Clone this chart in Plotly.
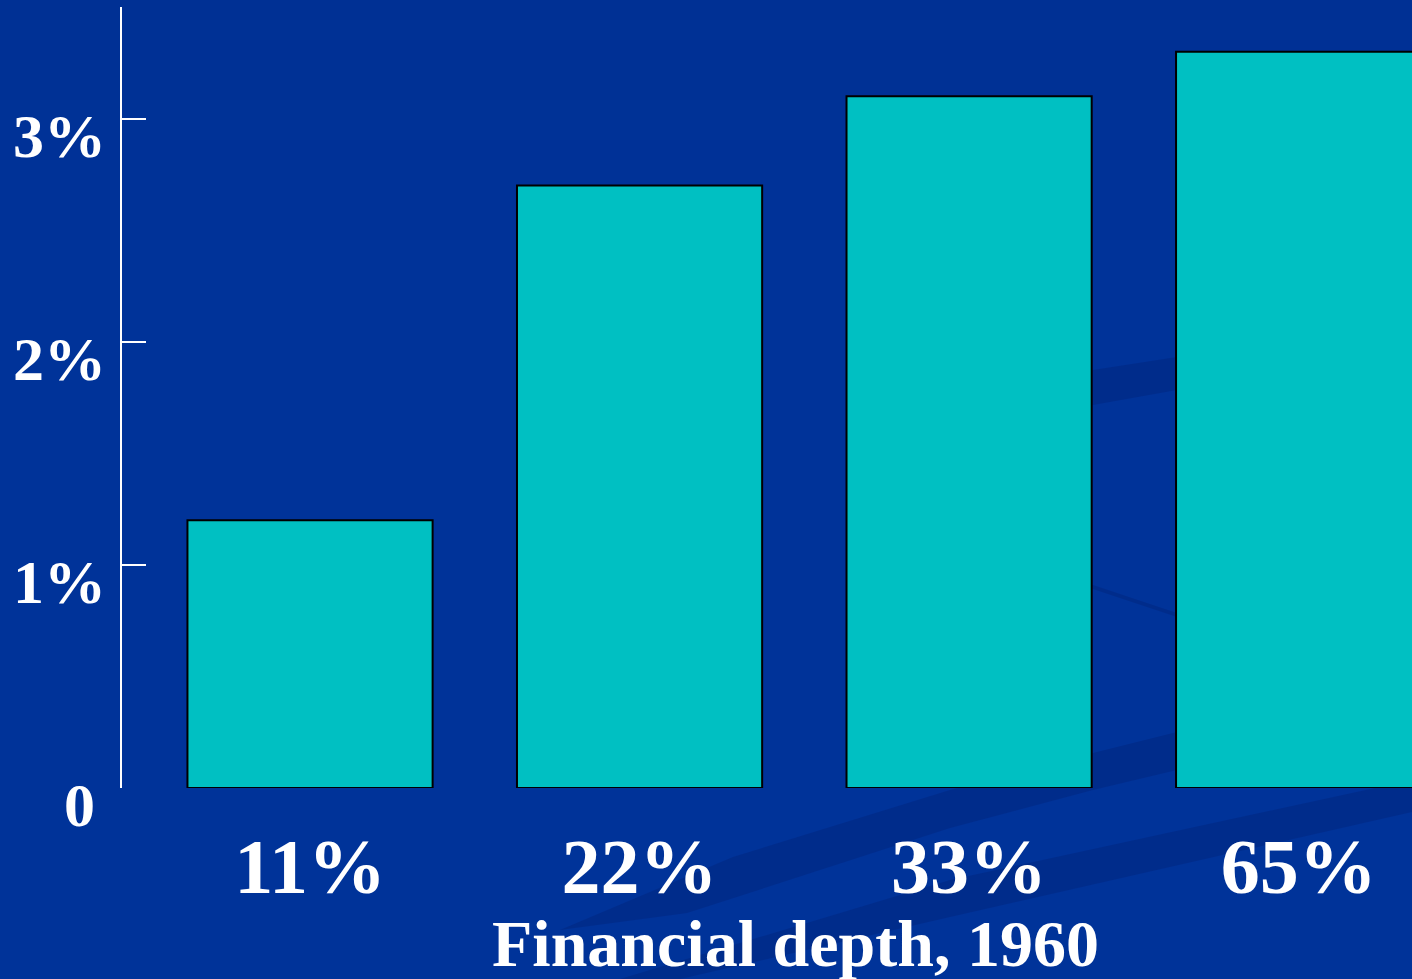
import plotly.graph_objects as go

categories = ["11%", "22%", "33%", "65%"]
growth = [1.2, 2.7, 3.1, 3.3]
y_ticks = [0, 1, 2, 3]
y_tick_labels = ["0", "1%", "2%", "3%"]
x_title = "Financial depth, 1960"

W, H = 1412, 979
ML, MR, MT, MB = 122, 0, 7, 191
PW, PH = W - ML - MR, H - MT - MB

def px2paper(px, py):
    return (px - ML) / PW, (H - MB - py) / PH

def path(points):
    pts = [px2paper(x, y) for x, y in points]
    return "M " + " L ".join(f"{x:.4f},{y:.4f}" for x, y in pts) + " Z"

FONT = "Liberation Serif"
STREAK = "rgba(0,30,110,0.30)"

fig = go.Figure()
fig.add_trace(go.Bar(
    x=list(range(len(categories))), y=growth,
    width=0.744,
    marker=dict(color="#00C0C2", line=dict(color="black", width=2)),
    hoverinfo="skip",
))

shapes = []
# subtle darker top of the slide background
for i in range(12):
    y0 = i * 20
    shapes.append(dict(type="path", xref="paper", yref="paper", layer="below",
                       path=path([(-200, y0), (1412, y0), (1412, y0 + 20), (-200, y0 + 20)]),
                       fillcolor=f"rgba(0,30,110,{0.10 * (1 - i / 12):.3f})", line=dict(width=0)))
# decorative background swooshes
shapes += [
    dict(type="path", xref="paper", yref="paper", layer="below",
         path=path([(1040, 382), (1093, 370), (1177, 357), (1412, 325),
                    (1412, 355), (1177, 390), (1093, 405), (1040, 415)]),
         fillcolor=STREAK, line=dict(width=0)),
    dict(type="path", xref="paper", yref="paper", layer="below",
         path=path([(1040, 570), (1093, 585), (1177, 613), (1412, 700),
                    (1412, 705), (1177, 617), (1093, 589), (1040, 574)]),
         fillcolor=STREAK, line=dict(width=0)),
    dict(type="path", xref="paper", yref="paper", layer="below",
         path=path([(560, 930), (733, 857), (950, 790), (1093, 753), (1177, 732), (1412, 680),
                    (1412, 740), (1177, 770), (1093, 790), (950, 828), (687, 913)]),
         fillcolor=STREAK, line=dict(width=0)),
    dict(type="path", xref="paper", yref="paper", layer="below",
         path=path([(620, 979), (950, 880), (1412, 780),
                    (1412, 812), (950, 917), (680, 979)]),
         fillcolor=STREAK, line=dict(width=0)),
]

annotations = []
for v, lab in zip(y_ticks, y_tick_labels):
    annotations.append(dict(
        text=f"<b>{lab}</b>", xref="paper", yref="y", x=0, y=v,
        xanchor="right", yanchor="middle",
        xshift=-25 if lab == "0" else -14, yshift=-17, showarrow=False,
        font=dict(family=FONT, size=62, color="white"),
    ))
annotations.append(dict(
    text=f"<b>{x_title}</b>", xref="paper", yref="paper",
    x=px2paper(796, 0)[0], y=0, xanchor="center", yanchor="top",
    yshift=-117, showarrow=False,
    font=dict(family=FONT, size=66, color="white"),
))

fig.update_layout(
    width=W, height=H,
    margin=dict(l=ML, r=MR, t=MT, b=MB, pad=0, autoexpand=False),
    paper_bgcolor="#003399",
    plot_bgcolor="rgba(0,0,0,0)",
    showlegend=False,
    shapes=shapes,
    font=dict(family=FONT, color="white"),
    xaxis=dict(
        range=[-0.5706, 3.344],
        tickvals=list(range(len(categories))),
        ticktext=categories,
        tickfont=dict(family=FONT, size=78, color="white", weight="bold"),
        showgrid=False, zeroline=False, showline=False, ticks="",
        ticklabelstandoff=26, automargin=False,
    ),
    yaxis=dict(
        range=[0, 3.5],
        tickvals=y_ticks,
        showticklabels=False,
        showgrid=False, zeroline=False,
        showline=True, linecolor="white", linewidth=2,
        ticks="inside", ticklen=24, tickwidth=2, tickcolor="white",
        automargin=False,
    ),
    annotations=annotations,
)

fig.write_html("out.html")
